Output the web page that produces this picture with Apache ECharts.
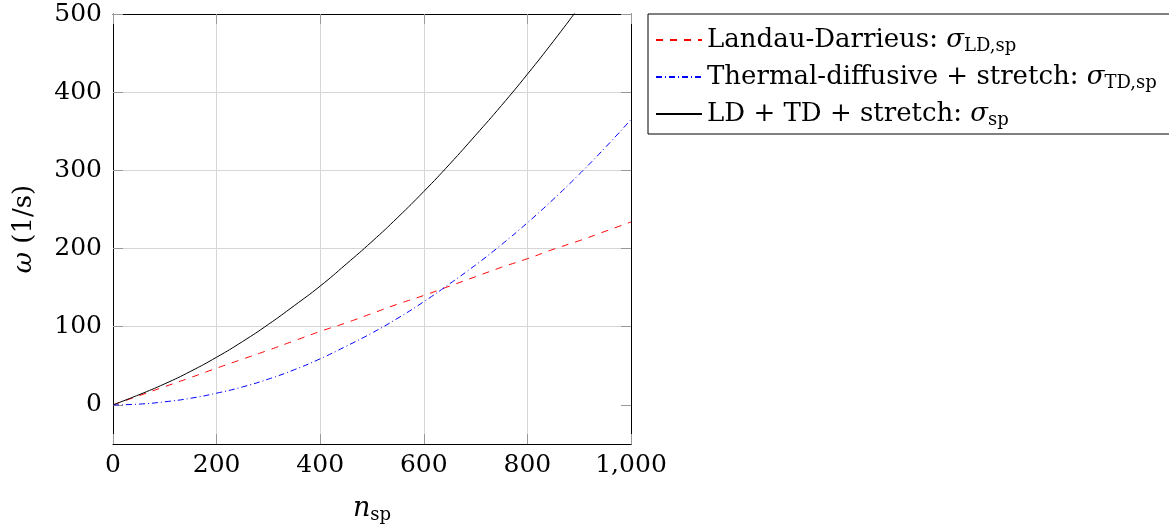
<!DOCTYPE html>
<html>
<head>
<meta charset="utf-8">
<script src="https://cdn.jsdelivr.net/npm/echarts@6/dist/echarts.min.js"></script>
<style>
  html, body { margin: 0; padding: 0; background: #fff; }
  #chart { width: 1169px; height: 524px; }
</style>
</head>
<body>
<div id="chart"></div>
<script>
// Number of spanwise modes
const nValues = [0, 50, 100, 150, 200, 250, 300, 350, 400, 450, 500, 550, 600, 650, 700, 750, 800, 850, 900, 950, 1000];
// Landau-Darrieus growth rate
const ldValues = [0, 11.7, 23.4, 35, 47, 58.5, 70, 82, 94, 105, 117, 129, 140, 152, 164, 176, 187, 199, 210, 222, 234];
// Thermal-diffusive + stretch growth rate
const tdValues = [0, 1, 4, 8.5, 15, 23, 33, 45, 59, 75, 92, 111, 132, 155, 179, 205, 233, 263, 295, 329, 365];
// Combined growth rate
const totalValues = [0, 13, 27, 43, 61, 81, 103, 127, 152, 180, 209, 240, 273, 308, 345, 383, 423, 465, 509, 555, 602];

const xTicks = [0, 200, 400, 600, 800, 1000];
const yTicks = [0, 100, 200, 300, 400, 500];

const seriesNames = ['Landau-Darrieus', 'Thermal-diffusive + stretch', 'LD + TD + stretch'];
const legendLabels = [
  'Landau-Darrieus: {s|σ}{sub|LD,sp}',
  'Thermal-diffusive + stretch: {s|σ}{sub|TD,sp}',
  'LD + TD + stretch: {s|σ}{sub|sp}'
];

const FONT = 'DejaVu Serif';
const toPairs = ys => nValues.map((n, i) => [n, ys[i]]);

const tickStyle = { show: true, inside: true, length: 10, lineStyle: { color: '#999', width: 1 } };
const gridLine = { show: true, showMinLine: false, showMaxLine: false, lineStyle: { color: '#d6d6d6', width: 1 } };
const blackLine = { show: true, onZero: false, lineStyle: { color: '#000', width: 1 } };
const labelFont = { fontFamily: FONT, fontSize: 25, color: '#000' };

const chart = echarts.init(document.getElementById('chart'), null, { renderer: 'canvas' });
chart.setOption({
  animation: false,
  backgroundColor: '#fff',
  grid: { left: 113, right: 538, top: 14, bottom: 80, show: false, containLabel: false, outerBoundsMode: 'none' },
  xAxis: [
    {
      type: 'value', min: 0, max: 1000, interval: 200, position: 'bottom',
      axisLine: blackLine, axisTick: tickStyle, splitLine: gridLine,
      axisLabel: Object.assign({ margin: 9, formatter: v => v.toLocaleString('en-US') }, labelFont),
      name: '{i|n}{sub|sp}', nameLocation: 'middle', nameGap: 50,
      nameTextStyle: {
        fontFamily: FONT, fontSize: 26, color: '#000',
        rich: {
          i: { fontFamily: FONT, fontSize: 27, fontStyle: 'italic', color: '#000' },
          sub: { fontFamily: FONT, fontSize: 18, color: '#000', padding: [12, 0, 0, 0] }
        }
      }
    },
    {
      type: 'value', min: 0, max: 1000, interval: 200, position: 'top',
      axisLine: blackLine, axisTick: tickStyle, splitLine: { show: false }, axisLabel: { show: false }
    }
  ],
  yAxis: [
    {
      type: 'value', min: -50, max: 500, position: 'left',
      axisLine: blackLine,
      axisTick: Object.assign({ customValues: yTicks }, tickStyle),
      splitLine: gridLine,
      axisLabel: Object.assign({ margin: 11, customValues: yTicks }, labelFont),
      name: '{i|ω} (1/s)', nameLocation: 'middle', nameGap: 76, nameRotate: 90,
      nameTextStyle: {
        fontFamily: FONT, fontSize: 26, color: '#000',
        rich: { i: { fontFamily: FONT, fontSize: 26, fontStyle: 'italic', color: '#000' } }
      }
    },
    {
      type: 'value', min: -50, max: 500, position: 'right',
      axisLine: blackLine,
      axisTick: Object.assign({ customValues: yTicks }, tickStyle),
      splitLine: { show: false },
      axisLabel: { show: false, customValues: yTicks }
    }
  ],
  legend: {
    orient: 'vertical', left: 648, top: 14,
    padding: [10, 30, 4, 7], itemGap: 5, itemWidth: 46, itemHeight: 12,
    borderColor: '#000', borderWidth: 1, borderRadius: 0,
    itemStyle: { opacity: 0 },
    data: seriesNames,
    formatter: name => legendLabels[seriesNames.indexOf(name)],
    textStyle: {
      fontFamily: FONT, fontSize: 26, color: '#000', lineHeight: 32,
      rich: {
        s: { fontFamily: FONT, fontSize: 26, fontStyle: 'italic', color: '#000', lineHeight: 32 },
        sub: { fontFamily: FONT, fontSize: 18, color: '#000', lineHeight: 32, padding: [12, 0, 0, 0] }
      }
    }
  },
  series: [
    {
      name: seriesNames[0], type: 'line', data: toPairs(ldValues), symbol: 'none', smooth: true,
      lineStyle: { color: '#ff0000', width: 1, type: [7, 7] }, itemStyle: { color: '#ff0000' }, z: 3
    },
    {
      name: seriesNames[1], type: 'line', data: toPairs(tdValues), symbol: 'none', smooth: true,
      lineStyle: { color: '#0000ff', width: 1, type: [6, 3, 1, 3] }, itemStyle: { color: '#0000ff' }, z: 3
    },
    {
      name: seriesNames[2], type: 'line', data: toPairs(totalValues), symbol: 'none', smooth: true,
      lineStyle: { color: '#000', width: 1, type: 'solid' }, itemStyle: { color: '#000' }, z: 3, clip: true
    }
  ]
});
</script>
</body>
</html>
